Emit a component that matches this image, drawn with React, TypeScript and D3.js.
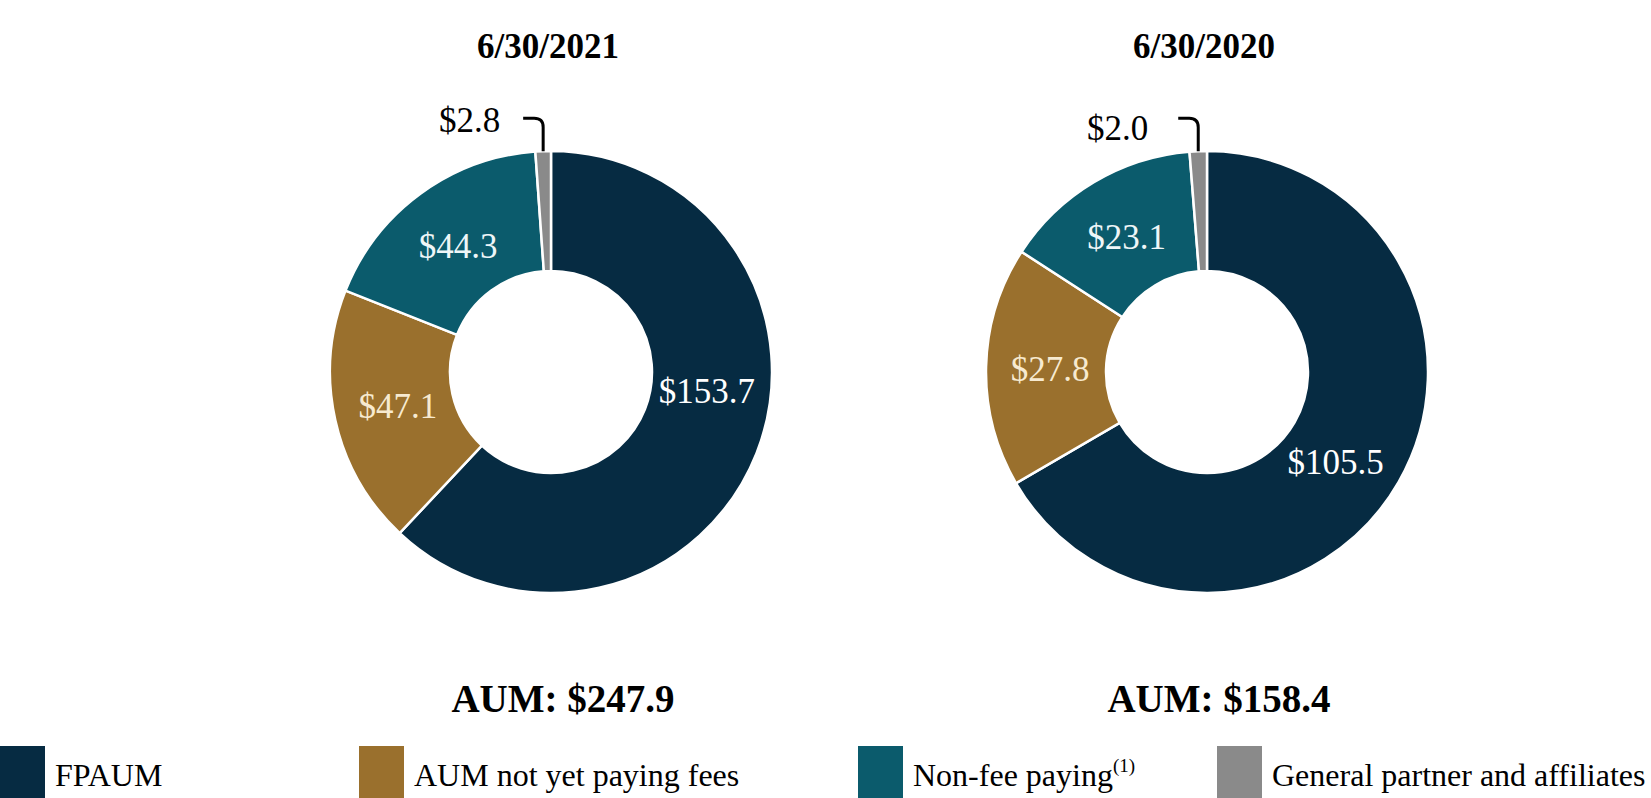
import React from 'react';
import * as d3 from 'd3';

// Categories, in the order the slices run clockwise from 12 o'clock
const categories = ['FPAUM', 'AUM not yet paying fees', 'Non-fee paying', 'General partner and affiliates'];
const colors = ['#062b42', '#9a702d', '#0b5b6c', '#8a8a8a'];
const labelColors = ['#ffffff', '#f7ead0', '#eef6f8', '#000000'];

// Series values ($ billions)
const dates = ['6/30/2021', '6/30/2020'];
const values2021 = [153.7, 47.1, 44.3, 2.8];
const values2020 = [105.5, 27.8, 23.1, 2.0];

type Slice = { category: string; value: number; index: number };

const W = 1651;
const H = 798;
const cy = 372;
const outerR = 221;
const innerR = 101;
const serif = "'Liberation Serif', 'Times New Roman', Times, serif";

// layout per chart (label tweaks the way the original deck placed them)
const charts = [
  { title: dates[0], values: values2021, cx: 551, mainAngle: 97, smallDx: -43, smallDy: -19 },
  { title: dates[1], values: values2020, cx: 1207, mainAngle: 125, smallDx: -50, smallDy: -11 },
];

const fmt = (v: number) => `$${v.toFixed(1)}`;

const Donut = ({ chart }: { chart: (typeof charts)[number] }) => {
  const data: Slice[] = chart.values.map((v, i) => ({ category: categories[i], value: v, index: i }));
  const pie = d3
    .pie<Slice>()
    .value((d) => d.value)
    .sort(null)
    .startAngle(0)
    .endAngle(2 * Math.PI);
  const arcs = pie(data);
  const arc = d3.arc<d3.PieArcDatum<Slice>>().innerRadius(innerR).outerRadius(outerR);
  const labelArc = d3.arc<d3.PieArcDatum<Slice>>().innerRadius(157).outerRadius(157);
  const total = d3.sum(chart.values);

  const small = arcs[arcs.length - 1];
  const mid = (small.startAngle + small.endAngle) / 2;
  const px = outerR * Math.sin(mid);
  const top = -outerR * Math.cos(mid);
  const y0 = top - 33;

  return (
    <g transform={`translate(${chart.cx},${cy})`}>
      <text
        x={-3}
        y={58 - cy}
        textAnchor="middle"
        fontFamily={serif}
        fontWeight="bold"
        fontSize={35}
        fill="#000"
      >
        {chart.title}
      </text>

      {arcs.map((a) => (
        <path key={a.data.category} d={arc(a) ?? ''} fill={colors[a.index]} stroke="#fff" strokeWidth={2.5} />
      ))}

      {arcs.slice(0, arcs.length - 1).map((a) => {
        let [lx, ly] = labelArc.centroid(a);
        if (a.index === 0) {
          const t = (chart.mainAngle * Math.PI) / 180;
          lx = 157 * Math.sin(t);
          ly = -157 * Math.cos(t);
        }
        return (
          <text
            key={a.data.category}
            x={lx}
            y={ly}
            dy="0.35em"
            textAnchor="middle"
            fontFamily={serif}
            fontSize={35}
            fill={labelColors[a.index]}
          >
            {fmt(a.data.value)}
          </text>
        );
      })}

      {/* leader for the thin grey slice */}
      <path
        d={`M${px - 20},${y0} H${px - 9} Q${px},${y0} ${px},${y0 + 9} V${top}`}
        fill="none"
        stroke="#000"
        strokeWidth={3}
      />
      <text
        x={px + chart.smallDx}
        y={top + chart.smallDy}
        textAnchor="end"
        fontFamily={serif}
        fontSize={35}
        fill="#000"
      >
        {fmt(small.data.value)}
      </text>

      <text
        x={12}
        y={712 - cy}
        textAnchor="middle"
        fontFamily={serif}
        fontWeight="bold"
        fontSize={39}
        fill="#000"
      >
        {`AUM: ${fmt(total)}`}
      </text>
    </g>
  );
};

const legendX = d3.scaleOrdinal<string, number>().domain(categories).range([0, 359, 858, 1217]);

const App = () => (
  <svg width={W} height={H} style={{ position: 'absolute', left: 0, top: 0, background: '#fff' }}>
    {charts.map((c) => (
      <Donut key={c.title} chart={c} />
    ))}

    <g>
      {categories.map((c, i) => (
        <g key={c} transform={`translate(${legendX(c)},746)`}>
          <rect width={45} height={52} fill={colors[i]} />
          <text x={55} y={40} fontFamily={serif} fontSize={32} fill="#000">
            {c}
            {c === 'Non-fee paying' && (
              <tspan fontSize={19} dy={-14}>
                (1)
              </tspan>
            )}
          </text>
        </g>
      ))}
    </g>
  </svg>
);

export default App;
